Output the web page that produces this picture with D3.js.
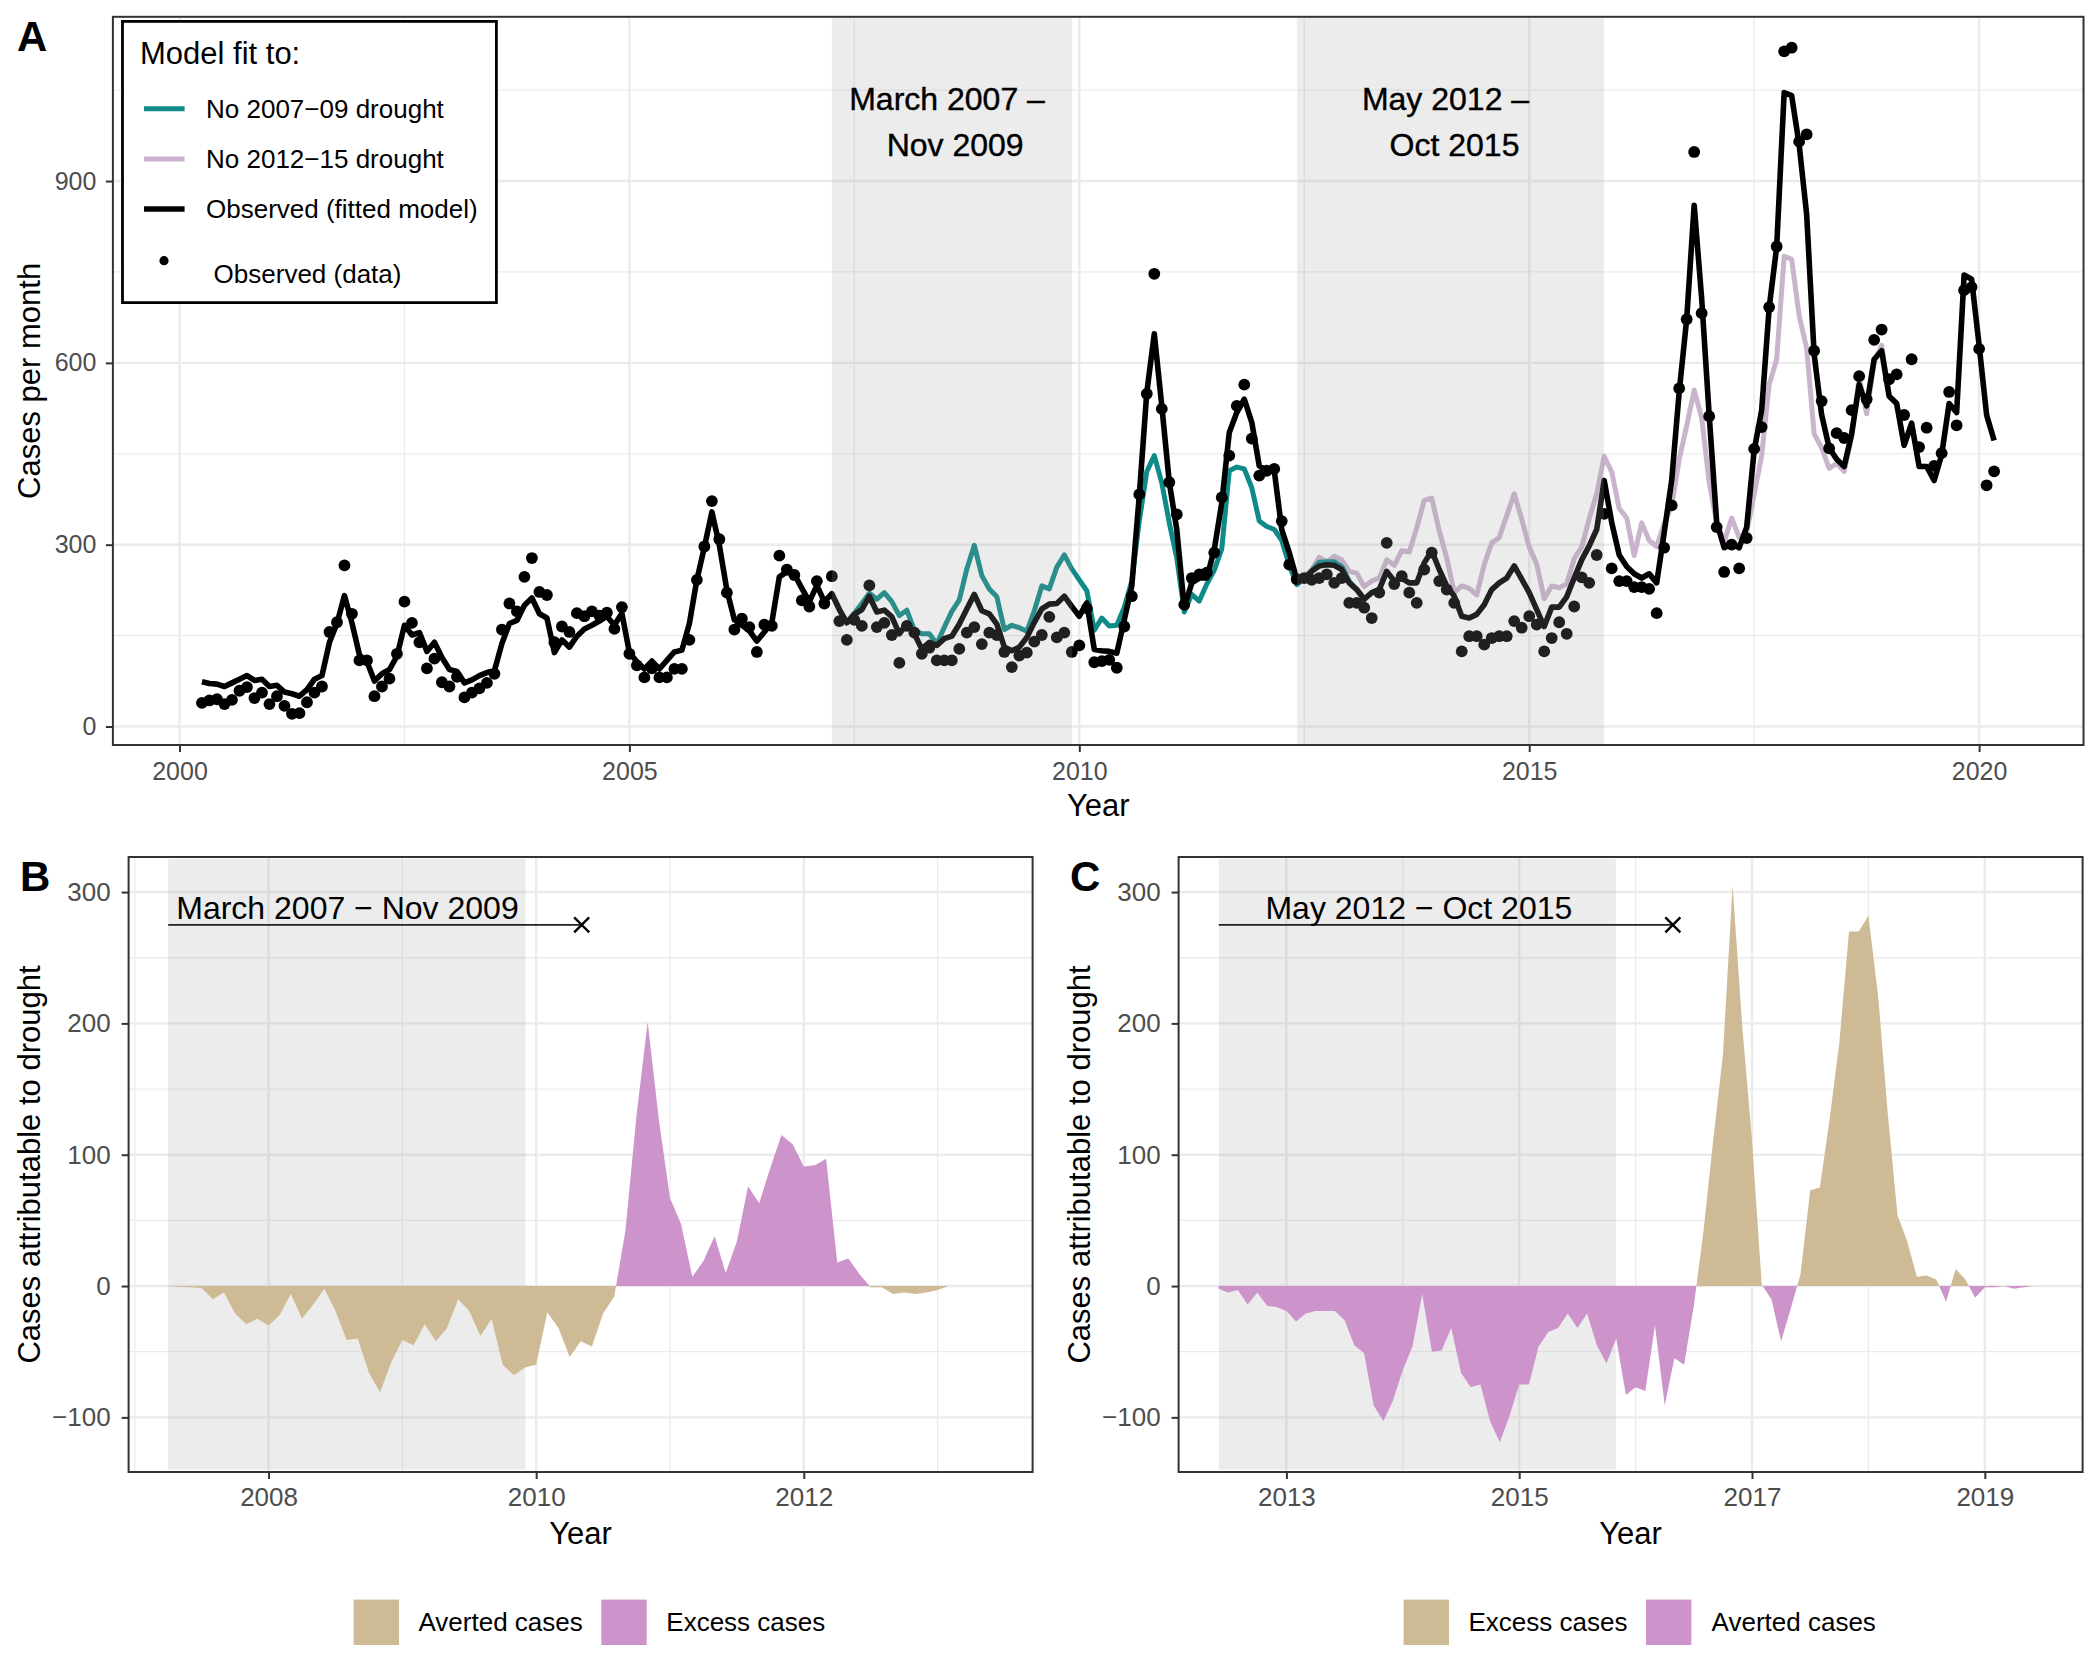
<!DOCTYPE html>
<html><head><meta charset="utf-8">
<script src="https://cdn.jsdelivr.net/npm/d3@7"></script>
<style>
body{margin:0;background:#fff}
svg{display:block}
text{font-family:"Liberation Sans",Arial,Helvetica,sans-serif}
</style>
</head><body>
<svg id="chart" width="2100" height="1680"></svg>
<script>
// ---------------- DATA ----------------
// monthly series start: April 2000
const startYear = 2000;
const startMonth = 4;

// Observed monthly cases (points)
const observedData = [
 39,43,45,37,44,59,65,47,56,37,50,34,21,22,40,56,66,156,172,266,
 186,109,109,50,66,79,120,206,171,139,96,112,73,66,82,48,56,63,72,87,
 160,203,190,247,278,222,217,139,165,156,187,182,190,183,188,161,197,120,101,81,
 96,81,81,95,95,143,242,297,372,309,221,160,178,164,123,168,166,282,259,250,
 208,198,240,203,248,174,143,176,166,233,164,171,151,105,166,155,120,130,109,109,
 109,128,155,164,136,155,151,123,98,117,122,140,151,181,147,155,123,134,195,106,
 108,110,97,165,215,383,549,747,524,403,350,201,245,251,254,287,378,447,529,564,
 475,414,422,425,339,267,243,245,242,245,251,237,245,204,204,196,179,221,303,235,
 248,221,204,259,287,240,226,204,124,149,149,135,146,149,149,174,163,182,168,124,
 146,172,153,198,246,237,283,351,261,240,240,230,230,227,187,295,365,558,672,948,
 682,512,329,255,300,261,311,458,494,692,792,1114,1120,965,977,620,537,459,484,476,
 522,578,540,638,655,573,581,514,606,461,493,430,451,552,497,720,725,623,398,421
];

// Fitted model (observed)
const fittedModel = [
 74,71,70,66,72,78,84,76,78,66,68,57,54,50,61,78,84,139,170,216,
 171,118,107,75,87,94,116,167,151,155,124,139,114,94,91,72,77,84,89,92,
 137,170,175,200,212,186,179,122,143,131,149,161,167,174,182,167,187,122,107,95,
 108,95,109,123,126,170,242,296,354,299,225,176,167,158,141,156,172,247,255,251,
 228,206,233,206,219,193,171,185,193,215,189,192,181,153,170,153,128,139,134,145,
 149,169,194,218,191,186,169,131,125,131,147,172,194,202,203,215,198,182,204,127,
 125,124,121,176,232,381,551,648,529,403,325,196,237,245,245,292,369,485,518,540,
 502,430,422,422,325,287,243,243,256,265,267,266,259,237,226,210,221,226,256,240,
 245,237,237,270,290,259,232,215,182,179,185,201,226,237,245,265,243,221,193,165,
 197,197,214,245,275,298,325,406,337,283,264,252,245,252,237,320,406,552,672,860,
 706,514,337,295,302,295,329,456,522,691,791,1046,1041,960,845,614,514,460,441,429,
 483,564,529,606,620,545,533,464,500,429,429,406,448,533,518,745,738,629,514,472
];

// Counterfactual: no 2007-09 drought (starts at month index 84 = Apr 2007)
const noDrought0709Start = 84;
const noDrought0709 = [
 219,194,172,187,203,220,210,221,206,183,192,159,153,153,136,164,190,209,260,299,
 249,227,214,160,167,163,157,191,232,227,263,283,260,242,224,159,179,166,167,197,
 240,339,421,447,402,336,278,189,218,207,235,258,293,422,428,425,394,339,330,325,
 307,266,234,244,257,271,272,272,264,240,226,210,221,226,256
];

// Counterfactual: no 2012-15 drought (starts at month index 146 = Jun 2012)
const noDrought1215Start = 146;
const noDrought1215 = [
 245,248,259,279,272,281,275,256,253,231,240,245,275,266,290,288,328,373,377,323,
 278,221,232,228,217,267,303,312,348,384,342,296,268,211,232,229,235,277,296,343,
 384,446,420,360,344,282,336,307,297,335,364,441,496,555,509,403,336,305,344,312,
 320,383,447,564,606,776,771,678,624,483,460,426,434,421,478,576,516,601,629,546,
 534,464,502,430,429
];

// Cases attributable to drought (panel B: 2007-09 drought)
const attributable0709Start = 84;
const attributable0709 = [
 0,-0.5,-1,-1.5,-10,-5,-21,-29,-25,-30,-22,-6,-25,-14,-2,-19,-41,-40,-66,-81,
 -58,-41,-45,-29,-42,-32,-10,-19,-38,-25,-60,-68,-62,-60,-20,-32,-54,-42,-46,-21,
 -8,42,130,201,127,67,47,7,19,38,10,34,76,63,90,115,108,91,92,97,
 18,21,9,-1,-1,-6,-5,-6,-5,-3,0,0,0,0,0
];

// Cases attributable to drought (panel C: 2012-15 drought)
const attributable1215Start = 146;
const attributable1215 = [
 -2,-5,-3,-14,-5,-15,-16,-19,-27,-21,-19,-19,-19,-26,-45,-51,-91,-103,-87,-64,
 -46,-6,-50,-49,-32,-66,-77,-75,-103,-119,-99,-75,-75,-46,-35,-32,-21,-32,-21,-45,
 -59,-40,-83,-77,-80,-30,-91,-55,-60,-15,42,111,176,305,197,111,1,-10,-42,-17,
 9,73,75,127,185,270,270,282,221,131,54,34,7,8,5,-12,13,5,-9,-1,
 -1,0,-2,-1,0
];

// Drought periods (decimal years)
const drought0709 = [2007.25, 2009.92];
const drought1215 = [2012.42, 2015.83];

// Ticks
const yearTicksA = [2000, 2005, 2010, 2015, 2020];
const yearMinorA = [2002.5, 2007.5, 2012.5, 2017.5];
const casesTicksA = [0, 300, 600, 900];
const casesMinorA = [150, 450, 750, 1050];
const yearTicksB = [2008, 2010, 2012];
const yearMinorB = [2007, 2009, 2011, 2013];
const yearTicksC = [2013, 2015, 2017, 2019];
const yearMinorC = [2014, 2016, 2018];
const attribTicks = [-100, 0, 100, 200, 300];
const attribMinor = [-50, 50, 150, 250];

// Colours
const COL_TEAL = "#0E8A88";
const COL_LILAC = "#CAB3CD";
const COL_TAN = "#CEBA94";
const COL_PURPLE = "#CC94CB";
const GRID = "#EBEBEB";
const AXIS_TXT = "#4D4D4D";
const BORDER = "#333333";

// ---------------- HELPERS ----------------
const svg = d3.select("#chart");
svg.append("rect").attr("width",2100).attr("height",1680).attr("fill","#fff");
const monthTime = k => startYear + (startMonth - 1 + k) / 12;
const series = (arr, start) => arr.map((v, i) => ({t: monthTime(start + i), v}));

function grid(g, x, y, xMaj, xMin, yMaj, yMin, box){
  const gg = g.append("g");
  xMin.forEach(d => gg.append("line").attr("x1",x(d)).attr("x2",x(d)).attr("y1",box.top).attr("y2",box.bottom).attr("stroke",GRID).attr("stroke-width",1.3));
  yMin.forEach(d => gg.append("line").attr("y1",y(d)).attr("y2",y(d)).attr("x1",box.left).attr("x2",box.right).attr("stroke",GRID).attr("stroke-width",1.3));
  xMaj.forEach(d => gg.append("line").attr("x1",x(d)).attr("x2",x(d)).attr("y1",box.top).attr("y2",box.bottom).attr("stroke",GRID).attr("stroke-width",2.4));
  yMaj.forEach(d => gg.append("line").attr("y1",y(d)).attr("y2",y(d)).attr("x1",box.left).attr("x2",box.right).attr("stroke",GRID).attr("stroke-width",2.4));
}

function axes(g, x, y, xTicks, yTicks, box, fs, xPad, yPad){
  const ax = g.append("g").attr("transform",`translate(0,${box.bottom})`)
    .call(d3.axisBottom(x).tickValues(xTicks).tickFormat(d3.format("d")).tickSize(7).tickPadding(xPad));
  const ay = g.append("g").attr("transform",`translate(${box.left},0)`)
    .call(d3.axisLeft(y).tickValues(yTicks).tickFormat(d => d < 0 ? "\u2212" + Math.abs(d) : d).tickSize(7).tickPadding(yPad));
  [ax, ay].forEach(a => {
    a.select(".domain").remove();
    a.selectAll(".tick line").attr("stroke",BORDER).attr("stroke-width",2);
    a.selectAll(".tick text").attr("fill",AXIS_TXT).style("font-size",fs+"px")
      .style("font-family",'"Liberation Sans",Arial,sans-serif');
  });
}

function withCrossings(arr){
  const out = [];
  arr.forEach((p, i) => {
    if (i > 0){
      const q = arr[i-1];
      if ((q.v < 0 && p.v > 0) || (q.v > 0 && p.v < 0)){
        const f = q.v / (q.v - p.v);
        out.push({t: q.t + f * (p.t - q.t), v: 0});
      }
    }
    out.push(p);
  });
  return out;
}

// ---------------- PANEL A ----------------
const A = {left:112.9, right:2083.5, top:16.8, bottom:745};
const xA = d3.scaleLinear().domain([1999.26, 2021.16]).range([A.left, A.right]);
const yA = d3.scaleLinear().domain([-30.5, 1171]).range([A.bottom, A.top]);
const gA = svg.append("g");
svg.append("defs").append("clipPath").attr("id","clipA").append("rect")
  .attr("x",A.left).attr("y",A.top).attr("width",A.right-A.left).attr("height",A.bottom-A.top);

grid(gA, xA, yA, yearTicksA, yearMinorA, casesTicksA, casesMinorA, A);

const plotA = gA.append("g").attr("clip-path","url(#clipA)");
const lineA = d3.line().x(d => xA(d.t)).y(d => yA(d.v)).curve(d3.curveLinear);
plotA.append("path").datum(series(noDrought1215, noDrought1215Start)).attr("d",lineA)
  .attr("fill","none").attr("stroke",COL_LILAC).attr("stroke-width",5).attr("stroke-linejoin","round");
plotA.append("path").datum(series(noDrought0709, noDrought0709Start)).attr("d",lineA)
  .attr("fill","none").attr("stroke",COL_TEAL).attr("stroke-width",5).attr("stroke-linejoin","round");
plotA.append("path").datum(series(fittedModel, 0)).attr("d",lineA)
  .attr("fill","none").attr("stroke","#000").attr("stroke-width",5.6).attr("stroke-linejoin","round");
plotA.selectAll("circle.obs").data(series(observedData, 0)).enter().append("circle")
  .attr("cx",d => xA(d.t)).attr("cy",d => yA(d.v)).attr("r",5.9).attr("fill","#000");

// drought shading (drawn over the data, semi-transparent)
[drought0709, drought1215].forEach(dr => {
  plotA.append("rect").attr("x",xA(dr[0])).attr("width",xA(dr[1])-xA(dr[0]))
    .attr("y",A.top).attr("height",A.bottom-A.top).attr("fill","#A0A0A0").attr("fill-opacity",0.2);
});

// annotations
const annA = [
  {lines:["March 2007 \u2013","Nov 2009"], xs:[2008.53, 2008.62]},
  {lines:["May 2012 \u2013","Oct 2015"], xs:[2014.07, 2014.17]}
];
annA.forEach(a => {
  a.lines.forEach((s, i) => {
    gA.append("text").attr("x",xA(a.xs[i])).attr("y",i === 0 ? 110 : 155.6)
      .attr("text-anchor","middle").style("font-size","32px").attr("fill","#000")
      .attr("stroke","#000").attr("stroke-width",0.4).text(s);
  });
});

gA.append("rect").attr("x",A.left).attr("y",A.top).attr("width",A.right-A.left).attr("height",A.bottom-A.top)
  .attr("fill","none").attr("stroke",BORDER).attr("stroke-width",2);
axes(gA, xA, yA, yearTicksA, casesTicksA, A, 25, 10, 9.5);

gA.append("text").attr("x",(A.left+A.right)/2).attr("y",816).attr("text-anchor","middle")
  .style("font-size","31px").text("Year");
gA.append("text").attr("transform",`translate(29,${(A.top+A.bottom)/2}) rotate(-90)`)
  .attr("text-anchor","middle").attr("dy","0.35em").style("font-size","31px").text("Cases per month");
gA.append("text").attr("x",17).attr("y",51).style("font-size","42px").style("font-weight","bold").text("A");

// legend
const leg = gA.append("g");
leg.append("rect").attr("x",122.5).attr("y",21.4).attr("width",373.9).attr("height",281.2)
  .attr("fill","#fff").attr("stroke","#000").attr("stroke-width",2.8);
leg.append("text").attr("x",140).attr("y",64).style("font-size","31px").text("Model fit to:");
const legItems = [
  {label:"No 2007\u221209 drought", color:COL_TEAL, w:5, y:108.7},
  {label:"No 2012\u221215 drought", color:COL_LILAC, w:5, y:159},
  {label:"Observed (fitted model)", color:"#000", w:5.6, y:209}
];
legItems.forEach(it => {
  leg.append("line").attr("x1",144).attr("x2",184.6).attr("y1",it.y).attr("y2",it.y)
    .attr("stroke",it.color).attr("stroke-width",it.w);
  leg.append("text").attr("x",206).attr("y",it.y).attr("dy","0.35em").style("font-size","26px").text(it.label);
});
leg.append("circle").attr("cx",164).attr("cy",260.7).attr("r",4.6).attr("fill","#000");
leg.append("text").attr("x",213.6).attr("y",274).attr("dy","0.35em").style("font-size","26px").text("Observed (data)");

// ---------------- PANELS B & C ----------------
function attribPanel(o){
  const box = o.box;
  const x = d3.scaleLinear().domain(o.xDomain).range([box.left, box.right]);
  const y = d3.scaleLinear().domain([-141.6, 326.7]).range([box.bottom, box.top]);
  const g = svg.append("g");
  const cid = "clip" + o.letter;
  svg.select("defs").append("clipPath").attr("id",cid).append("rect")
    .attr("x",box.left).attr("y",box.top).attr("width",box.right-box.left).attr("height",box.bottom-box.top);
  grid(g, x, y, o.xTicks, o.xMinor, attribTicks, attribMinor, box);
  const p = g.append("g").attr("clip-path",`url(#${cid})`);
  p.append("rect").attr("x",x(o.drought[0])).attr("width",x(o.drought[1])-x(o.drought[0]))
    .attr("y",y(325.3)).attr("height",y(-139.8)-y(325.3)).attr("fill","#A0A0A0").attr("fill-opacity",0.2);
  const pts = withCrossings(series(o.values, o.start));
  const areaPos = d3.area().x(d => x(d.t)).y0(y(0)).y1(d => y(Math.max(0, d.v)));
  const areaNeg = d3.area().x(d => x(d.t)).y0(y(0)).y1(d => y(Math.min(0, d.v)));
  p.append("path").datum(pts).attr("d",areaNeg).attr("fill",o.negColor);
  p.append("path").datum(pts).attr("d",areaPos).attr("fill",o.posColor);
  // annotation segment with cross
  const yy = y(275);
  p.append("line").attr("x1",x(o.drought[0])).attr("x2",x(o.segEnd)).attr("y1",yy).attr("y2",yy)
    .attr("stroke","#222").attr("stroke-width",1.8);
  const cx = x(o.segEnd), s = 7.5;
  p.append("path").attr("d",`M${cx-s},${yy-s}L${cx+s},${yy+s}M${cx-s},${yy+s}L${cx+s},${yy-s}`)
    .attr("stroke","#000").attr("stroke-width",2.4);
  g.append("text").attr("x",x(o.textStart)).attr("y",yy-5.6).style("font-size","32px").text(o.label);

  g.append("rect").attr("x",box.left).attr("y",box.top).attr("width",box.right-box.left).attr("height",box.bottom-box.top)
    .attr("fill","none").attr("stroke",BORDER).attr("stroke-width",2);
  axes(g, x, y, o.xTicks, attribTicks, box, 26, 8.5, 11);
  g.append("text").attr("x",(box.left+box.right)/2).attr("y",1544).attr("text-anchor","middle")
    .style("font-size","31px").text("Year");
  g.append("text").attr("transform",`translate(${o.yTitleX},${(box.top+box.bottom)/2}) rotate(-90)`)
    .attr("text-anchor","middle").attr("dy","0.35em").style("font-size","31px").text("Cases attributable to drought");
  g.append("text").attr("x",o.letterX).attr("y",891).style("font-size","42px").style("font-weight","bold").text(o.letter);
  // legend
  o.legend.forEach(it => {
    g.append("rect").attr("x",it.kx).attr("y",1599.6).attr("width",45.4).attr("height",45.4).attr("fill",it.color);
    g.append("text").attr("x",it.tx).attr("y",1622.3).attr("dy","0.35em").style("font-size","26px").text(it.label);
  });
}

attribPanel({
  letter:"B", letterX:20, yTitleX:29,
  box:{left:128.6, right:1032.6, top:857, bottom:1472},
  xDomain:[2006.954, 2013.71],
  xTicks:yearTicksB, xMinor:yearMinorB,
  drought:drought0709, segEnd:2010.34, textStart:2007.31,
  label:"March 2007 \u2212 Nov 2009",
  values:attributable0709, start:attributable0709Start,
  negColor:COL_TAN, posColor:COL_PURPLE,
  legend:[{label:"Averted cases", color:COL_TAN, kx:353.6, tx:418.5},
          {label:"Excess cases", color:COL_PURPLE, kx:601.3, tx:666.3}]
});

attribPanel({
  letter:"C", letterX:1070, yTitleX:1079,
  box:{left:1178.6, right:2082.6, top:857, bottom:1472},
  xDomain:[2012.074, 2019.84],
  xTicks:yearTicksC, xMinor:yearMinorC,
  drought:drought1215, segEnd:2016.32, textStart:2012.82,
  label:"May 2012 \u2212 Oct 2015",
  values:attributable1215, start:attributable1215Start,
  negColor:COL_PURPLE, posColor:COL_TAN,
  legend:[{label:"Excess cases", color:COL_TAN, kx:1403.6, tx:1468.5},
          {label:"Averted cases", color:COL_PURPLE, kx:1646, tx:1711.6}]
});
</script>
</body></html>
